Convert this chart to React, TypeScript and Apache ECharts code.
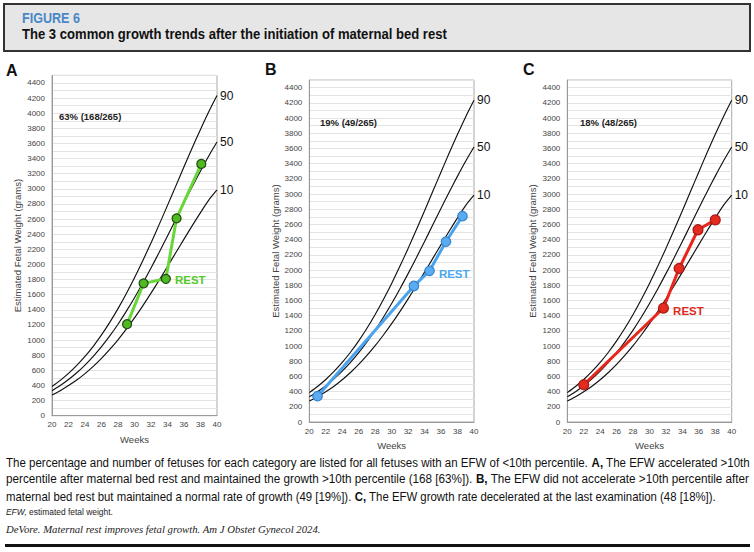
import React, { useEffect, useRef } from "react";
import * as echarts from "echarts";

// Gestational age (weeks) and percentile curves (grams)
const WEEKS = [20, 21, 22, 23, 24, 25, 26, 27, 28, 29, 30, 31, 32, 33, 34, 35, 36, 37, 38, 39, 40];
const P10 = [275, 331, 398, 471, 556, 652, 758, 876, 1004, 1145, 1294, 1453, 1621, 1794, 1973, 2154, 2335, 2513, 2686, 2851, 2985];
const P50 = [331, 399, 478, 568, 670, 785, 913, 1055, 1210, 1379, 1559, 1751, 1953, 2162, 2377, 2595, 2813, 3028, 3236, 3435, 3619];
const P90 = [387, 467, 559, 665, 784, 918, 1068, 1234, 1416, 1613, 1824, 2049, 2285, 2530, 2781, 3036, 3291, 3543, 3786, 4019, 4234];
const PCT_LABELS = ["10", "50", "90"];

// Panel A (accelerated)
const A_WEEKS = [29.1, 31.1, 33.8, 35.1, 38.1];
const A_EFW = [1210, 1750, 1810, 2610, 3330];
const A_REST = 2;
// Panel B (normal rate)
const B_WEEKS = [21.0, 32.7, 34.6, 36.6, 38.6];
const B_EFW = [340, 1790, 1990, 2375, 2710];
const B_REST = 2;
// Panel C (decelerated)
const C_WEEKS = [22.0, 31.7, 33.6, 35.9, 38.0];
const C_EFW = [490, 1500, 2020, 2530, 2660];
const C_REST = 1;

const LETTERS = ["A", "B", "C"];
const PCT_TEXT = ["63% (168/265)", "19% (49/265)", "18% (48/265)"];

const FIG_LABEL = "FIGURE 6";
const FIG_TITLE = "The 3 common growth trends after the initiation of maternal bed rest";
type Seg = [string, boolean];
const CAPTION: Seg[][] = [
  [["The percentage and number of fetuses for each category are listed for all fetuses with an EFW of <10th percentile. ", false], ["A,", true], [" The EFW accelerated >10th", false]],
  [["percentile after maternal bed rest and maintained the growth >10th percentile (168 [63%]). ", false], ["B,", true], [" The EFW did not accelerate >10th percentile after", false]],
  [["maternal bed rest but maintained a normal rate of growth (49 [19%]). ", false], ["C,", true], [" The EFW growth rate decelerated at the last examination (48 [18%]).", false]],
];
const ABBREV: Seg[] = [["EFW,", true], [" estimated fetal weight.", false]];
const CITATION = "DeVore. Maternal rest improves fetal growth. Am J Obstet Gynecol 2024.";

const SANS = '"Liberation Sans", Arial, Helvetica, sans-serif';
const SERIF = '"Liberation Serif", "Times New Roman", serif';

const PANELS = [
  { weeks: A_WEEKS, efw: A_EFW, rest: A_REST, line: "#69d63a", fill: "#4fb922", border: "#1f4a10", restColor: "#55c82a", size: 9,
    grid: { left: 52, top: 75.4, width: 165, height: 340.3 }, letterX: 6, letterY: 70, pctX: 59, pctY: 116, nameGap: 30, xGap: 19 },
  { weeks: B_WEEKS, efw: B_EFW, rest: B_REST, line: "#4aa3ee", fill: "#5aabf1", border: "#3684cc", restColor: "#4aa8f0", size: 9.5,
    grid: { left: 309.3, top: 80.1, width: 164.7, height: 341.9 }, letterX: 265, letterY: 69, pctX: 320, pctY: 122, nameGap: 29, xGap: 18 },
  { weeks: C_WEEKS, efw: C_EFW, rest: C_REST, line: "#e8261c", fill: "#e52a1f", border: "#a81a12", restColor: "#e02a1e", size: 10,
    grid: { left: 567.3, top: 80.1, width: 164.4, height: 341.9 }, letterX: 523, letterY: 69, pctX: 580, pctY: 122, nameGap: 30, xGap: 18 },
];

let ctx: CanvasRenderingContext2D | null = null;
function textWidth(font: string, text: string) {
  if (!ctx) ctx = document.createElement("canvas").getContext("2d");
  if (!ctx) return text.length * 6;
  ctx.font = font;
  return ctx.measureText(text).width;
}
function segWidth(segs: Seg[], size: number, italicBold = false) {
  return segs.reduce((s, [t, b]) => s + textWidth(`${b ? (italicBold ? "italic " : "bold ") : ""}${size}px ${SANS}`, t), 0);
}
function richText(segs: Seg[]) {
  return segs.map(([t, b]) => (b ? `{b|${t}}` : t)).join("");
}

function buildOption() {
  const grid: any[] = [];
  const xAxis: any[] = [];
  const yAxis: any[] = [];
  const series: any[] = [];
  const graphic: any[] = [];

  PANELS.forEach((p, i) => {
    grid.push({ ...p.grid, show: true, borderColor: "#a8a8a8", borderWidth: 1, backgroundColor: "#fff" });
    xAxis.push({
      type: "value", gridIndex: i, min: 20, max: 40, interval: 2,
      name: "Weeks", nameLocation: "middle", nameGap: p.xGap,
      nameTextStyle: { fontFamily: SANS, fontSize: 9.5, color: "#444" },
      axisLine: { show: true, lineStyle: { color: "#999", width: 1 } },
      axisTick: { show: false },
      axisLabel: { fontFamily: SANS, fontSize: 8, color: "#444", margin: 5 },
      splitLine: { show: false },
    });
    yAxis.push({
      type: "value", gridIndex: i, min: 0, max: 4500, interval: 100,
      name: "Estimated Fetal Weight (grams)", nameLocation: "middle", nameGap: p.nameGap,
      nameTextStyle: { fontFamily: SANS, fontSize: 9.5, color: "#444" },
      axisLine: { show: true, lineStyle: { color: "#999", width: 1 } },
      axisTick: { show: false },
      axisLabel: {
        fontFamily: SANS, fontSize: 8, color: "#444", margin: 7,
        formatter: (v: number) => (v % 200 === 0 && v <= 4400 ? String(v) : ""),
      },
      splitLine: { show: true, lineStyle: { color: "#e3e3e3", width: 1 } },
    });

    [P10, P50, P90].forEach((curve, k) => {
      series.push({
        type: "line", xAxisIndex: i, yAxisIndex: i, smooth: 0.3, showSymbol: false, silent: true, z: 2,
        data: WEEKS.map((w, j) => [w, curve[j]]),
        lineStyle: { color: "#111", width: 1.15 },
        endLabel: { show: true, formatter: PCT_LABELS[k], distance: 3, fontFamily: SANS, fontSize: 12, color: "#111" },
      });
    });

    series.push({
      type: "line", xAxisIndex: i, yAxisIndex: i, z: 5, symbol: "circle", symbolSize: p.size,
      lineStyle: { color: p.line, width: 3 },
      itemStyle: { color: p.fill, borderColor: p.border, borderWidth: 1.2 },
      data: p.weeks.map((w, j) =>
        j === p.rest
          ? { value: [w, p.efw[j]], label: { show: true, formatter: "REST", position: "right", distance: 4, offset: [0, i === 0 ? 1 : 3],
              fontFamily: SANS, fontWeight: "bold", fontSize: 11.5, color: p.restColor } }
          : { value: [w, p.efw[j]] }
      ),
    });

    graphic.push({ type: "text", x: p.letterX, y: p.letterY, z: 100,
      style: { text: LETTERS[i], fontFamily: SANS, fontWeight: "bold", fontSize: 16, fill: "#111", textVerticalAlign: "middle" } });
    graphic.push({ type: "text", x: p.pctX, y: p.pctY, z: 100,
      style: { text: PCT_TEXT[i], fontFamily: SANS, fontWeight: "bold", fontSize: 9.5, fill: "#222", textVerticalAlign: "middle" } });
  });

  // Header box
  graphic.push({ type: "rect", z: 50, shape: { x: 4, y: 4, width: 746, height: 47 }, style: { fill: "#e6e6e6", stroke: "#333", lineWidth: 2 } });
  const figW = textWidth(`bold 14px ${SANS}`, FIG_LABEL);
  graphic.push({ type: "text", x: 22, y: 18, z: 100, scaleX: 58 / figW,
    style: { text: FIG_LABEL, fontFamily: SANS, fontWeight: "bold", fontSize: 14, fill: "#4a86c8", textVerticalAlign: "middle" } });
  const titleW = textWidth(`bold 15px ${SANS}`, FIG_TITLE);
  graphic.push({ type: "text", x: 22, y: 33.5, z: 100, scaleX: 425 / titleW,
    style: { text: FIG_TITLE, fontFamily: SANS, fontWeight: "bold", fontSize: 15, fill: "#111", textVerticalAlign: "middle" } });

  // Caption (each line condensed to the reference line length)
  const capSize = 12;
  const capEnds = [750, 749, 716];
  const capYs = [462.5, 479, 496];
  CAPTION.forEach((segs, k) => {
    const wNat = segWidth(segs, capSize);
    graphic.push({
      type: "text", x: 6, y: capYs[k], z: 100, scaleX: (capEnds[k] - 6) / wNat,
      style: {
        text: richText(segs), fontFamily: SANS, fontSize: capSize, fill: "#111", textVerticalAlign: "middle",
        rich: { b: { fontFamily: SANS, fontSize: capSize, fontWeight: "bold", fill: "#111" } },
      },
    });
  });
  const abbrW = segWidth(ABBREV, 9.5, true);
  graphic.push({ type: "text", x: 6, y: 511.5, z: 100, scaleX: (113 - 6) / abbrW,
    style: { text: richText(ABBREV), fontFamily: SANS, fontSize: 9.5, fill: "#222", textVerticalAlign: "middle",
      rich: { b: { fontFamily: SANS, fontSize: 9.5, fontStyle: "italic", fill: "#222" } } } });
  const citeW = textWidth(`italic 11px ${SERIF}`, CITATION);
  graphic.push({ type: "text", x: 6, y: 529, z: 100, scaleX: (321 - 6) / citeW,
    style: { text: CITATION, fontFamily: SERIF, fontStyle: "italic", fontSize: 11, fill: "#222", textVerticalAlign: "middle" } });
  graphic.push({ type: "rect", z: 100, shape: { x: 5, y: 544, width: 745, height: 3 }, style: { fill: "#111" } });

  return { animation: false, backgroundColor: "#fff", grid, xAxis, yAxis, series, graphic };
}

export default function App() {
  const ref = useRef<HTMLDivElement>(null);
  useEffect(() => {
    if (!ref.current) return;
    const chart = echarts.init(ref.current, null, { renderer: "svg" });
    chart.setOption(buildOption() as any);
    return () => chart.dispose();
  }, []);
  return <div ref={ref} style={{ position: "fixed", left: 0, top: 0, width: 754, height: 552, background: "#fff" }} />;
}
